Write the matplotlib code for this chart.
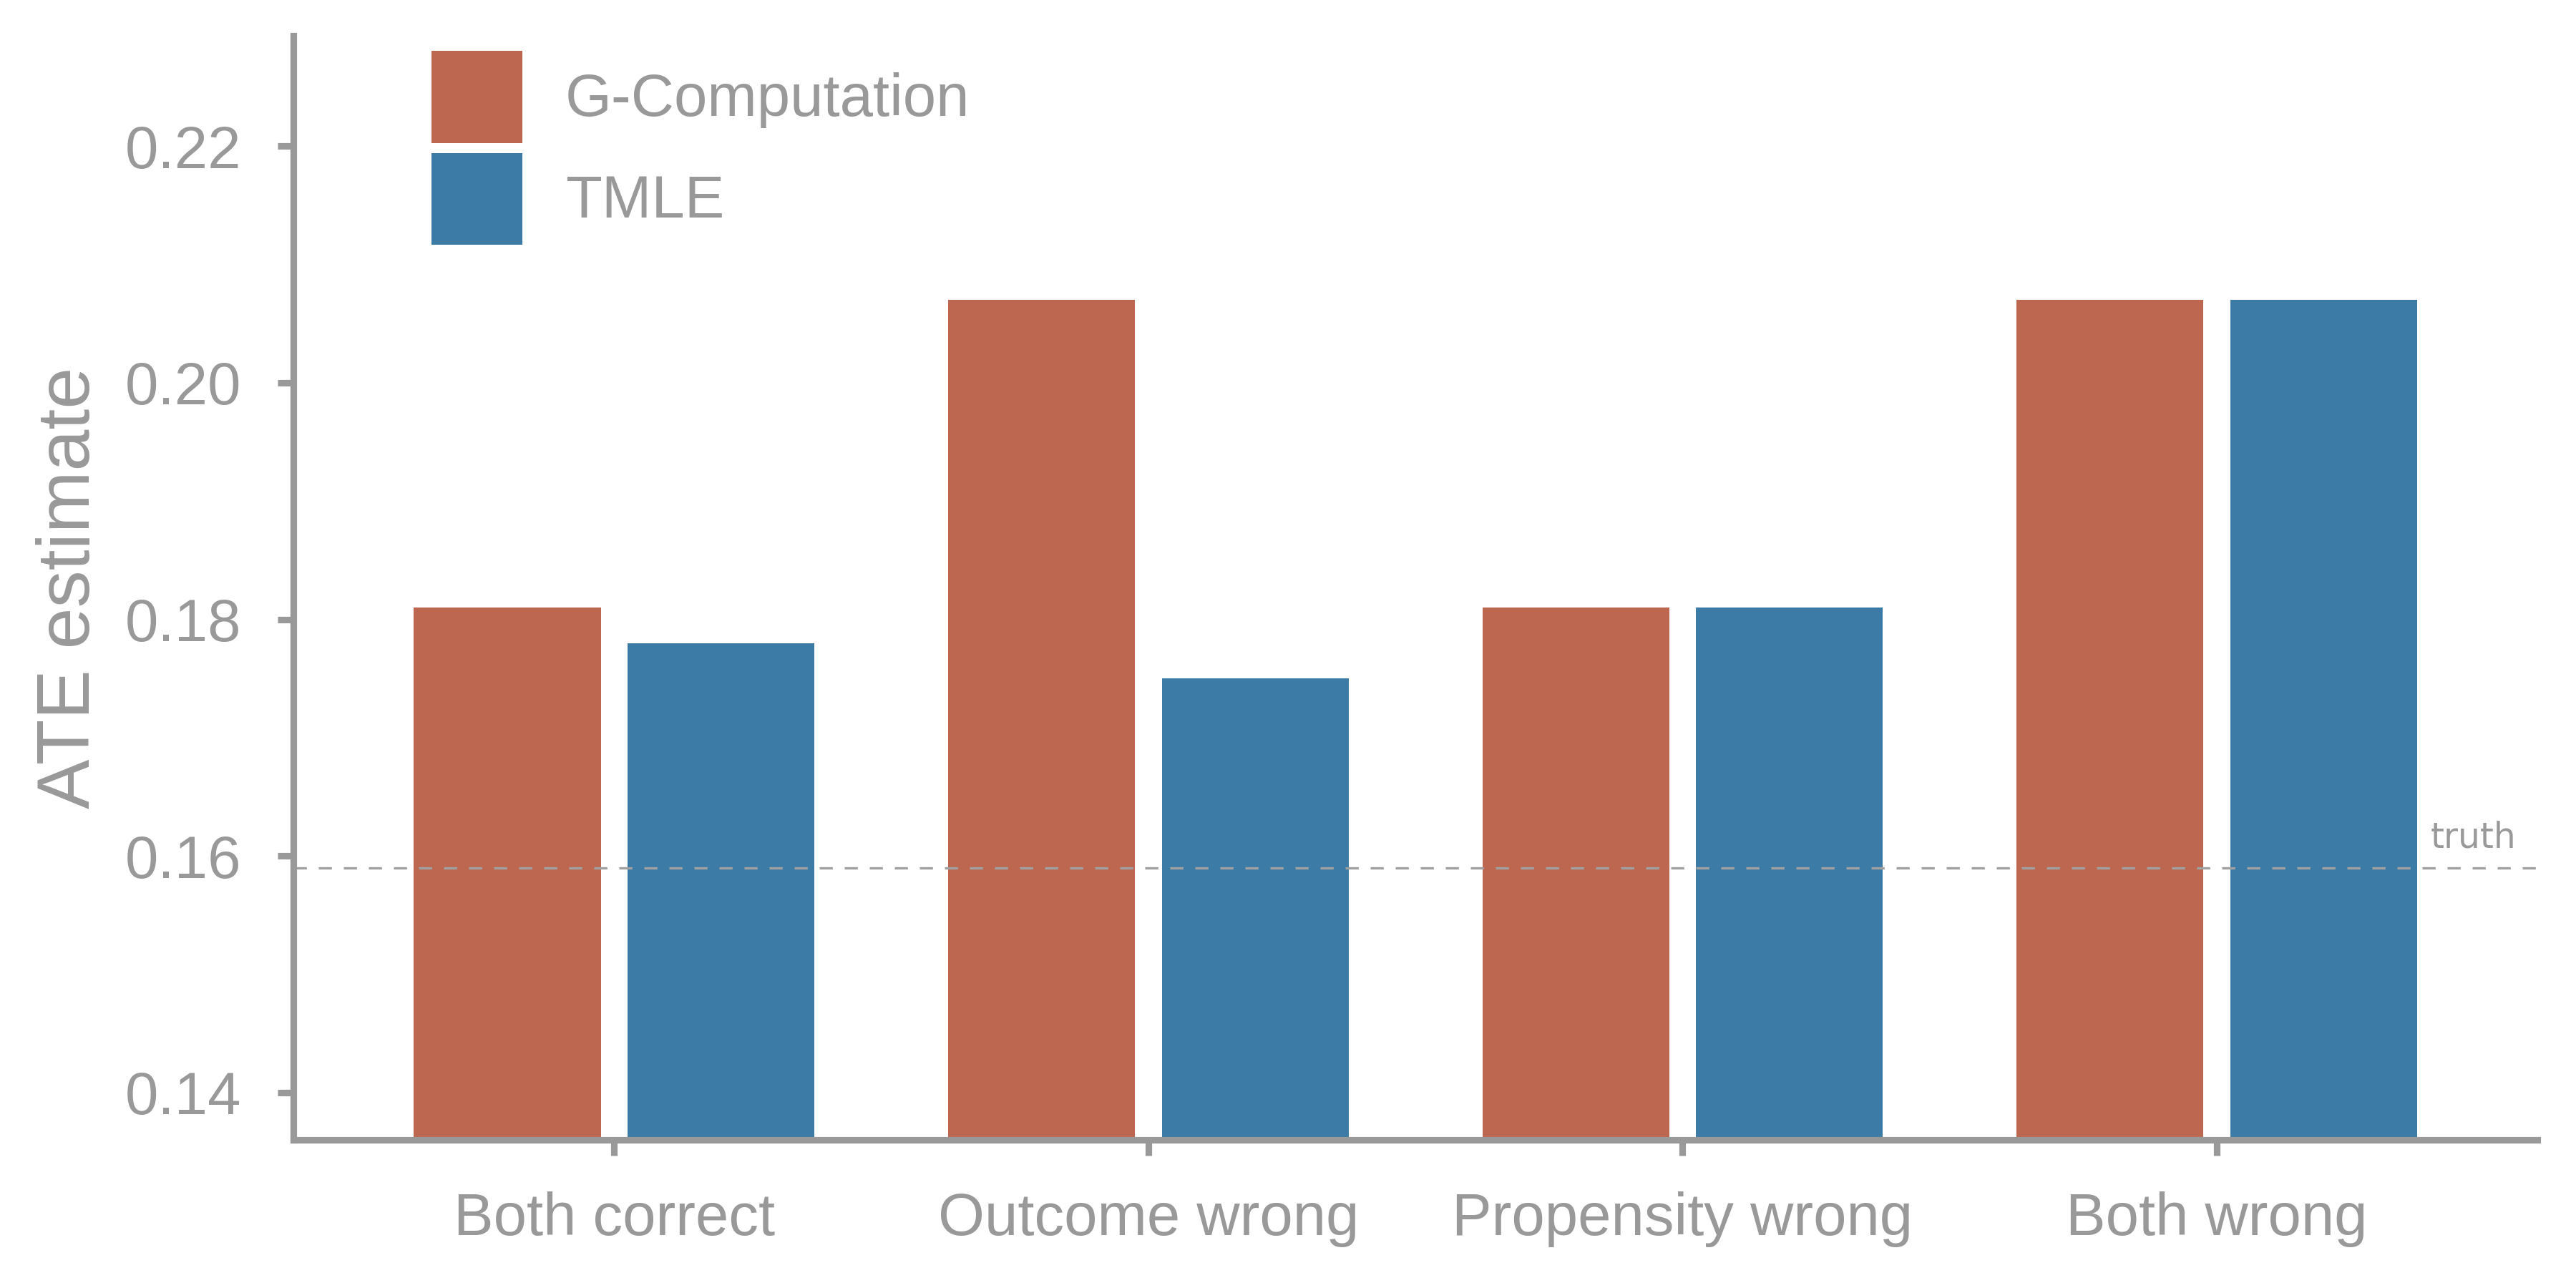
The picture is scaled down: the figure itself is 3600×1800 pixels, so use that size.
import matplotlib
matplotlib.use("Agg")
import matplotlib.pyplot as plt
import numpy as np

categories = ["Both correct", "Outcome wrong", "Propensity wrong", "Both wrong"]
gcomp = [0.181, 0.207, 0.181, 0.207]
tmle = [0.178, 0.175, 0.181, 0.207]
truth = 0.159

grey = "#999999"
c_gcomp = "#BE6750"
c_tmle = "#3B7BA6"

plt.rcParams["font.family"] = ["Liberation Sans", "DejaVu Sans"]

fig = plt.figure(figsize=(12, 6), dpi=300)
ax = fig.add_axes([0.114, 0.115, 0.871, 0.857])

x = np.arange(len(categories))
w = 0.35
ax.bar(x - 0.2, gcomp, w, color=c_gcomp, label="G-Computation", zorder=1)
ax.bar(x + 0.2, tmle, w, color=c_tmle, label="TMLE", zorder=1)

ax.axhline(truth, color="#A0A0A0", lw=0.8, ls=(0, (5.5, 5)), zorder=2)
ax.text(3.56, truth + 0.0011, "truth", ha="right", va="bottom",
        fontsize=11.7, color=grey, family=["DejaVu Sans"])

ax.set_xlim(-0.6, 3.6)
ax.set_ylim(0.136, 0.2293)
ax.set_xticks(x)
ax.set_xticklabels(categories)
ax.set_yticks([0.14, 0.16, 0.18, 0.20, 0.22])
ax.set_yticklabels(["0.14", "0.16", "0.18", "0.20", "0.22"])

for s in ["top", "right"]:
    ax.spines[s].set_visible(False)
for s in ["left", "bottom"]:
    ax.spines[s].set_color(grey)
    ax.spines[s].set_linewidth(2.2)

ax.tick_params(axis="both", colors=grey, labelcolor=grey, labelsize=20,
               length=5.3, width=2.2)
ax.tick_params(axis="x", pad=12)
ax.tick_params(axis="y", pad=12.2)

ax.set_ylabel("ATE estimate", fontsize=25, color=grey)
ax.yaxis.set_label_coords(-0.084, 0.5)

ax.legend(loc="upper left", bbox_to_anchor=(0.0615, 0.9866), frameon=False,
          fontsize=20, labelcolor=grey, handlelength=1.52, handleheight=2.0,
          labelspacing=0.165, handletextpad=0.72, borderpad=0, borderaxespad=0)

fig.savefig("out.png", dpi=300)
